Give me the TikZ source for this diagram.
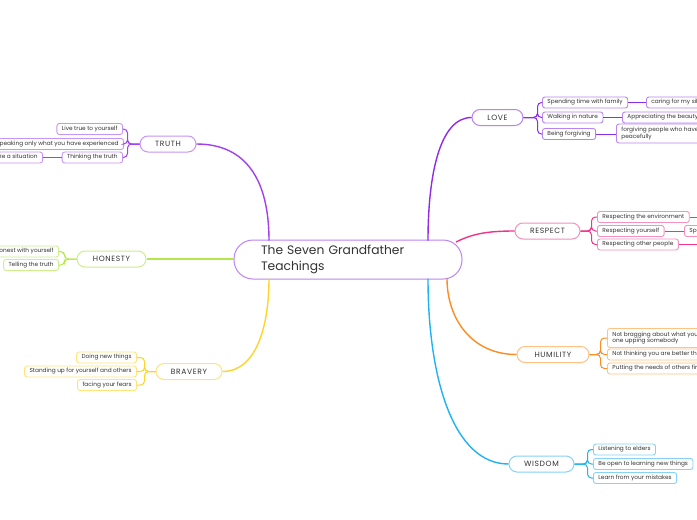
\documentclass[tikz,border=0pt]{standalone}
\usepackage{fontspec}
\setmainfont{Poppins}
\definecolor{txt}{HTML}{333333}
\definecolor{truthC}{HTML}{A040F0}
\definecolor{truthB}{HTML}{C994F5}
\definecolor{loveC}{HTML}{8F2CE8}
\definecolor{loveB}{HTML}{B983F0}
\definecolor{honC}{HTML}{B4E84A}
\definecolor{honB}{HTML}{CDEF8C}
\definecolor{bravC}{HTML}{FFD428}
\definecolor{bravB}{HTML}{FFE47E}
\definecolor{respC}{HTML}{F0348A}
\definecolor{respB}{HTML}{F690BC}
\definecolor{humC}{HTML}{FF8C1F}
\definecolor{humB}{HTML}{FFC184}
\definecolor{wisC}{HTML}{1FB3F2}
\definecolor{wisB}{HTML}{85D3F8}
\definecolor{cenB}{HTML}{BB85F2}
\tikzset{
 mainbox/.style={draw=#1, line width=1pt, rounded corners=8pt, minimum height=16pt, inner sep=0pt, font=\fontsize{7.6}{8}\selectfont\addfontfeature{LetterSpace=8}, text=txt, fill=white},
 subbox/.style={draw=#1, line width=0.9pt, rounded corners=2.5pt, minimum height=11pt, inner xsep=5pt, inner ysep=0pt, font=\fontsize{5.8}{6.6}\selectfont, text=txt, fill=white, align=left},
 mainline/.style={draw=#1, line width=1.4pt},
 subline/.style={draw=#1, line width=1pt, rounded corners=4pt},
}
\begin{document}
\begin{tikzpicture}[x=1pt,y=-1pt]
\useasboundingbox (0,0) rectangle (697,520);
\clip (0,0) rectangle (697,520);
\fill[white] (0,0) rectangle (697,520);
% central
\node[draw=cenB, line width=1pt, rounded corners=19pt, minimum height=39pt, text width=174pt, align=left, inner xsep=27pt, inner ysep=0pt, font=\fontsize{12.3}{16}\selectfont, text=txt] (c) at (348,259.5) {The Seven Grandfather\\Teachings};
\coordinate (cT) at (269,240.5);
\coordinate (cB) at (269,278.5);
\coordinate (cL) at (428,240.5);
\coordinate (cR) at (456,242);
\coordinate (cHu) at (447,278.5);
\coordinate (cW) at (428,278.5);
% main nodes
\node[mainbox=truthB, minimum width=56pt] (truth) at (168,144) {TRUTH};
\node[mainbox=honB, minimum width=69pt] (hon) at (111.5,259) {HONESTY};
\node[mainbox=bravB, minimum width=66pt] (brav) at (189,371.5) {BRAVERY};
\node[mainbox=loveB, minimum width=51pt] (love) at (497.5,117.5) {LOVE};
\node[mainbox=respB, minimum width=65pt] (resp) at (547.5,231) {RESPECT};
\node[mainbox=humB, minimum width=72pt] (hum) at (553,354.5) {HUMILITY};
\node[mainbox=wisB, minimum width=65pt] (wis) at (541.5,464) {WISDOM};
% truth
\node[subbox=truthB, anchor=east] (t1) at (123,129) {Live true to yourself};
\node[subbox=truthB, anchor=east] (t2) at (124,144) {Speaking only what you have experienced};
\node[subbox=truthB, anchor=east] (t3) at (123,157.5) {Thinking the truth};
\node[subbox=truthB, anchor=east] (t4) at (43,157.5) {Analyze a situation};
% honesty
\node[subbox=honB, anchor=east] (h1) at (59,251.5) {Being honest with yourself};
\node[subbox=honB, anchor=east] (h2) at (59,265) {Telling the truth};
% bravery
\node[subbox=bravB, anchor=east] (b1) at (137,357.5) {Doing new things};
\node[subbox=bravB, anchor=east] (b2) at (137,371.5) {Standing up for yourself and others};
\node[subbox=bravB, anchor=east] (b3) at (137,385) {facing your fears};
% love
\node[subbox=loveB, anchor=west] (l1) at (542,102.5) {Spending time with family};
\node[subbox=loveB, anchor=west] (l1a) at (646,102.5) {caring for my siblings};
\node[subbox=loveB, anchor=west] (l2) at (542,117.5) {Walking in nature};
\node[subbox=loveB, anchor=west] (l2a) at (622,117.5) {Appreciating the beauty of nature};
\node[subbox=loveB, anchor=west] (l3) at (542,134) {Being forgiving};
\node[subbox=loveB, anchor=west, minimum height=19pt] (l3a) at (616,133.5) {forgiving people who have hurt you\\peacefully};
% respect
\node[subbox=respB, anchor=west] (r1) at (597,217) {Respecting the environment};
\node[subbox=respB, anchor=west] (r2) at (597,231) {Respecting yourself};
\node[subbox=respB, anchor=west] (r2a) at (684,231) {Speaking kindly to yourself};
\node[subbox=respB, anchor=west] (r3) at (597,244.5) {Respecting other people};
\coordinate (r1a) at (712,217);
\coordinate (r3a) at (712,244.5);
% humility
\node[subbox=humB, anchor=west, minimum height=19pt] (u1) at (607,338) {Not bragging about what you have done or\\one upping somebody};
\node[subbox=humB, anchor=west] (u2) at (607,354.5) {Not thinking you are better than others};
\node[subbox=humB, anchor=west] (u3) at (607,368.5) {Putting the needs of others first};
% wisdom
\node[subbox=wisB, anchor=west] (w1) at (593,449.5) {Listening to elders};
\node[subbox=wisB, anchor=west] (w2) at (593,464) {Be open to learning new things};
\node[subbox=wisB, anchor=west] (w3) at (593,478) {Learn from your mistakes};
% main connectors
\draw[mainline=truthC] (truth.east) .. controls +(50,0) and +(0,-60) .. (cT);
\draw[mainline=honC] (hon.east) -- (hon.east -| c.west);
\draw[mainline=bravC] (brav.east) .. controls +(35,0) and +(0,45) .. (cB);
\draw[mainline=loveC] (love.west) .. controls +(-32,0) and +(0,-65) .. (cL);
\draw[mainline=respC] (resp.west) .. controls +(-28,0) and +(16,-8) .. (cR);
\draw[mainline=humC] (hum.west) .. controls +(-45,0) and +(0,40) .. (cHu);
\draw[mainline=wisC] (wis.west) .. controls +(-55,0) and +(0,100) .. (cW);
% brackets
\foreach \n in {t1,t2,t3}{\draw[subline=truthC] (truth.west) -- ++(-12,0) |- (\n.east);}
\foreach \n in {h1,h2}{\draw[subline=honC] (hon.west) -- ++(-12,0) |- (\n.east);}
\foreach \n in {b1,b2,b3}{\draw[subline=bravC] (brav.west) -- ++(-11,0) |- (\n.east);}
\foreach \n in {l1,l2,l3}{\draw[subline=loveC] (love.east) -- ++(14,0) |- (\n.west);}
\foreach \n in {r1,r2,r3}{\draw[subline=respC] (resp.east) -- ++(11,0) |- (\n.west);}
\foreach \n in {u1,u2,u3}{\draw[subline=humC] (hum.east) -- ++(11,0) |- (\n.west);}
\foreach \n in {w1,w2,w3}{\draw[subline=wisC] (wis.east) -- ++(13,0) |- (\n.west);}
% grandchildren
\draw[subline=truthC] (t3.west) -- (t4.east);
\draw[subline=loveC] (l1.east) -- (l1a.west);
\draw[subline=loveC] (l2.east) -- (l2a.west);
\draw[subline=loveC] (l3.east) -- (l3.east -| l3a.west);
\draw[subline=respC] (r1.east) -- (r1a);
\draw[subline=respC] (r2.east) -- (r2a.west);
\draw[subline=respC] (r3.east) -- (r3a);
\end{tikzpicture}
\end{document}
